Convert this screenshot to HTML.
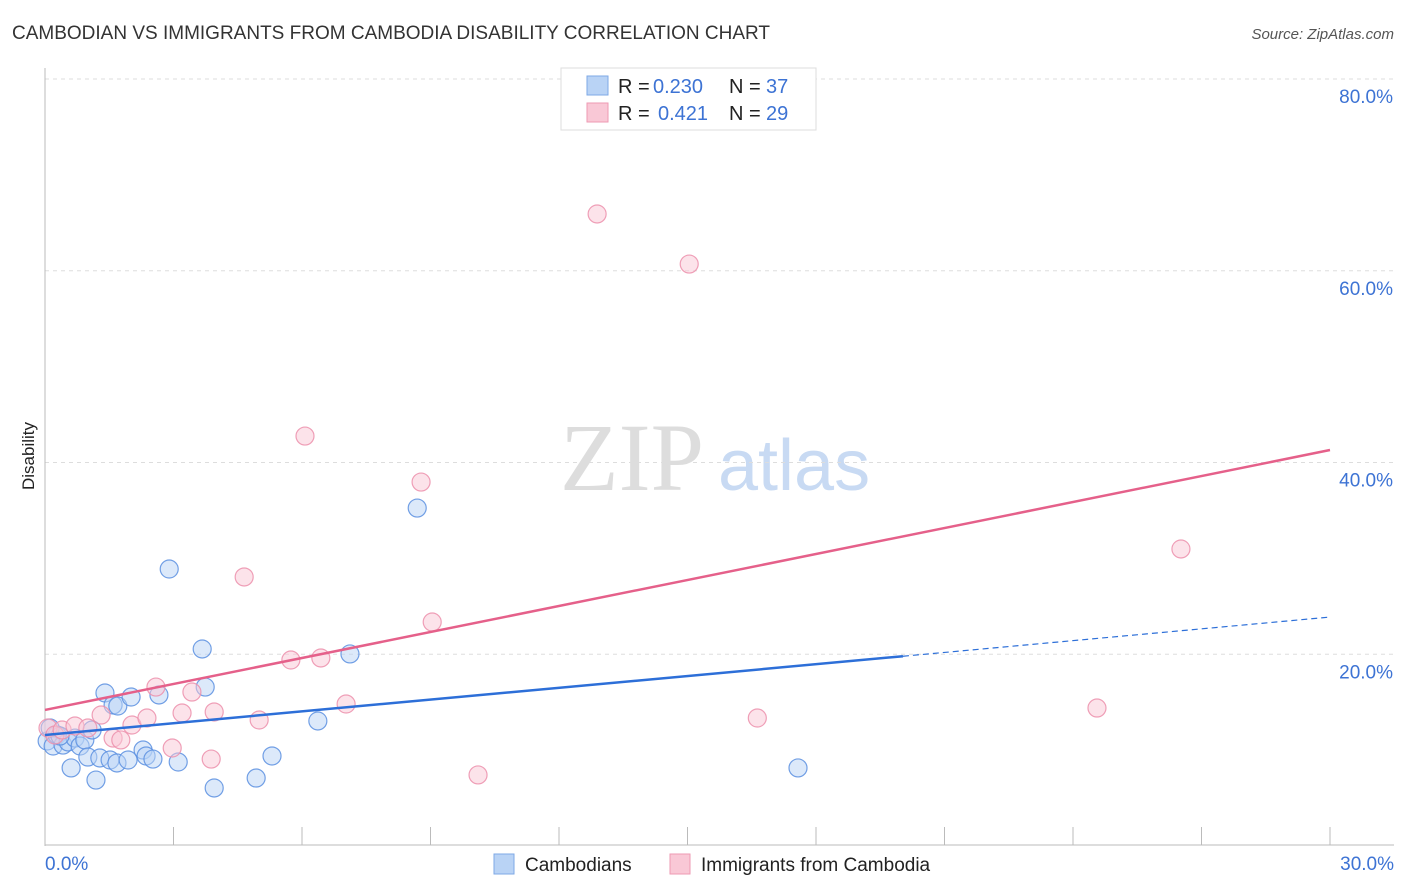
<!DOCTYPE html>
<html><head><meta charset="utf-8"><style>
body{margin:0;background:#fff;font-family:"Liberation Sans",sans-serif;}
svg{display:block}
</style></head><body>
<svg id="chart" width="1406" height="892" xmlns="http://www.w3.org/2000/svg">
<text x="12" y="39" font-size="19" fill="#333">CAMBODIAN VS IMMIGRANTS FROM CAMBODIA DISABILITY CORRELATION CHART</text>
<text x="1394" y="39" font-size="15" fill="#555" font-style="italic" text-anchor="end">Source: ZipAtlas.com</text>
<text x="560" y="490" font-size="96" fill="#ddd" font-family="Liberation Serif,serif">ZIP</text>
<text x="718" y="490" font-size="72" fill="#c8daf3">atlas</text>
<text transform="translate(34,456) rotate(-90)" font-size="17" fill="#222" text-anchor="middle">Disability</text>
<g id="grid"></g><g id="axes"></g><g id="pts"></g><g id="lines"></g>
<g>
<rect x="561" y="68" width="255" height="62" fill="#fff" stroke="#ddd"/>
<rect x="587" y="76" width="21" height="19" fill="#b9d3f5" stroke="#7ea8e6"/>
<rect x="587" y="103" width="21" height="19" fill="#f9c8d6" stroke="#ee9ab3"/>
<text x="618" y="93" font-size="20" fill="#222">R =</text>
<text x="653" y="93" font-size="20" fill="#3d73d4">0.230</text>
<text x="729" y="93" font-size="20" fill="#222">N =</text>
<text x="766" y="93" font-size="20" fill="#3d73d4">37</text>
<text x="618" y="120" font-size="20" fill="#222">R =</text>
<text x="658" y="120" font-size="20" fill="#3d73d4">0.421</text>
<text x="729" y="120" font-size="20" fill="#222">N =</text>
<text x="766" y="120" font-size="20" fill="#3d73d4">29</text>
</g>
<g>
<rect x="494" y="854" width="20" height="20" fill="#b9d3f5" stroke="#7ea8e6"/>
<text x="525" y="871" font-size="19" fill="#222">Cambodians</text>
<rect x="670" y="854" width="20" height="20" fill="#f9c8d6" stroke="#ee9ab3"/>
<text x="701" y="871" font-size="19" fill="#222">Immigrants from Cambodia</text>
</g>
</svg>
<script>
const blueX=[.05,.19,.28,.42,.54,.70,.82,.93,1.00,1.19,.61,1.28,1.40,1.52,1.59,1.70,1.68,1.94,2.01,2.29,2.36,2.52,2.66,2.90,3.11,3.67,3.74,3.95,4.93,5.30,6.37,7.12,8.69,17.58,1.10,.12,.35];
const blueY=[10.95,10.43,11.58,10.53,10.85,11.26,10.43,11.06,9.28,6.88,8.14,9.18,15.96,8.97,14.71,14.60,8.66,8.97,15.54,10.01,9.39,9.07,15.75,28.89,8.76,20.55,16.58,6.05,7.09,9.39,13.04,20.03,35.25,8.14,12.10,12.31,11.47];
const pinkX=[.07,.23,.40,.70,1.00,1.31,1.59,1.77,2.03,2.38,2.59,2.97,3.20,3.43,3.88,3.95,4.65,5.00,5.74,6.07,6.44,7.03,8.78,9.04,10.11,12.89,15.04,16.63,24.56,26.52];
const pinkY=[12.31,11.58,12.10,12.52,12.31,13.66,11.26,11.06,12.62,13.35,16.58,10.22,13.87,16.06,9.07,13.98,28.06,13.14,19.40,42.76,19.61,14.81,37.96,23.36,7.41,65.92,60.70,13.35,14.39,30.98];
const yTicks=[20,40,60,80];
const xTickLabels=["0.0%","30.0%"];
const blueTrend=[11.58,23.88], blueSolidEnd=20.03;
const pinkTrend=[14.19,41.30];
const NS="http://www.w3.org/2000/svg";
const sx=v=>45+v/30*1285, sy=v=>846-v*9.5875;
function mk(t,a,p){const e=document.createElementNS(NS,t);for(const k in a)e.setAttribute(k,a[k]);document.getElementById(p).appendChild(e);return e;}
yTicks.forEach(t=>{
 const l=mk('line',{x1:45,x2:1394,y1:sy(t),y2:sy(t),stroke:'#ddd','stroke-dasharray':'4,4'},'grid');
 
 
 const tx=mk('text',{x:1393,y:sy(t)+24,'font-size':19,fill:'#3d73d4','text-anchor':'end'},'axes');
 tx.textContent=t.toFixed(1)+'%';
 
 
});
mk('line',{x1:45,x2:45,y1:68,y2:846,stroke:'#bbb'},'axes');
mk('line',{x1:45,x2:1394,y1:845,y2:845,stroke:'#bbb'},'axes');
for(let i=0;i<=10;i++){const t=mk('line',{x1:sx(i*3),x2:sx(i*3),y1:827,y2:845,stroke:'#bbb'},'axes');
 
 }
[[0,'start',45],[1,'end',1394]].forEach(([i,a,x])=>{const t=mk('text',{x:x,y:870,'font-size':19,fill:'#3d73d4','text-anchor':a},'axes');t.textContent=xTickLabels[i];
 
 });
function pts(X,Y,f,s,n){X.forEach((x,i)=>{const c=mk('circle',{cx:sx(x),cy:sy(Y[i]),r:9,fill:f,'fill-opacity':0.5,stroke:s,'stroke-width':1.2,'stroke-opacity':0.85},'pts');
 
 });}
pts(blueX,blueY,'#b9d3f5','#5b8fe0','cambodians-point');
pts(pinkX,pinkY,'#f9c8d6','#ec8fab','immigrants-point');
const bs=blueTrend[0]+(blueTrend[1]-blueTrend[0])*blueSolidEnd/30;
let l=mk('line',{x1:sx(0),y1:sy(blueTrend[0]),x2:sx(blueSolidEnd),y2:sy(bs),stroke:'#2d6fd8','stroke-width':2.5},'lines');


l=mk('line',{x1:sx(blueSolidEnd),y1:sy(bs),x2:sx(30),y2:sy(blueTrend[1]),stroke:'#2d6fd8','stroke-width':1.2,'stroke-dasharray':'6,4'},'lines');


l=mk('line',{x1:sx(0),y1:sy(pinkTrend[0]),x2:sx(30),y2:sy(pinkTrend[1]),stroke:'#e5608a','stroke-width':2.5},'lines');


</script>
</body></html>
